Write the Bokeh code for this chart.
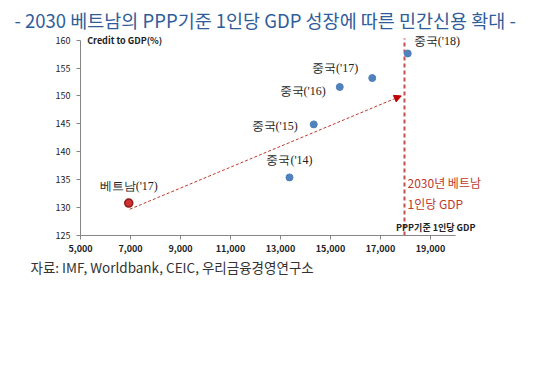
from bokeh.plotting import figure
from bokeh.models import (Range1d, ColumnDataSource, LabelSet, Label, Arrow, NormalHead,
                          FixedTicker, NumeralTickFormatter, Title)
from bokeh.embed import file_html
from bokeh.resources import INLINE

# ---- data ----
china_labels = ["중국('14)", "중국('15)", "중국('16)", "중국('17)", "중국('18)"]
china_gdp = [13360, 14330, 15370, 16670, 18090]
china_credit = [135.4, 144.9, 151.6, 153.2, 157.6]

vietnam_label = ["베트남('17)"]
vietnam_gdp = [6930]
vietnam_credit = [130.8]

target_gdp = 17960          # 2030 Vietnam per-capita GDP (PPP)
arrow_from = [6970, 129.7]
arrow_to = [17830, 150.0]

x_ticks = [5000, 7000, 9000, 11000, 13000, 15000, 17000, 19000]
y_ticks = [125, 130, 135, 140, 145, 150, 155, 160]

title_text = "- 2030 베트남의 PPP기준 1인당 GDP 성장에 따른 민간신용 확대 -"
source_text = "자료: IMF, Worldbank, CEIC, 우리금융경영연구소"
KR = "Noto Sans CJK KR"

p = figure(width=532, height=357, output_backend="svg", toolbar_location=None,
           x_range=Range1d(5000, 21400), y_range=Range1d(125, 161),
           min_border_left=80, min_border_right=42, min_border_top=34, min_border_bottom=122,
           title=None)
p.outline_line_color = None
p.grid.visible = False
p.background_fill_color = "white"

for ax in (p.xaxis[0], p.yaxis[0]):
    ax.axis_line_color = "#868686"
    ax.major_tick_line_color = "#868686"
    ax.major_tick_out = 4
    ax.major_tick_in = 0
    ax.minor_tick_line_color = None
    ax.major_label_text_font = KR
    ax.major_label_text_font_size = "9px"
    ax.major_label_text_color = "#222222"

p.xaxis.ticker = FixedTicker(ticks=x_ticks)
p.xaxis.formatter = NumeralTickFormatter(format="0,0")
p.xaxis.major_label_text_font_style = "bold"
p.xaxis.major_label_standoff = 5
p.xaxis.bounds = (5000, 20000)
p.yaxis.ticker = FixedTicker(ticks=y_ticks)
p.yaxis.major_label_standoff = 6
p.yaxis.bounds = (125, 160)

# target line
p.segment(x0=[target_gdp], y0=[125], x1=[target_gdp], y1=[160.3], line_color="#c0504d",
          line_width=2, line_dash="4 3")

# arrow
p.add_layout(Arrow(end=NormalHead(size=7, fill_color="#c00000", line_color="#c00000"),
                   x_start=arrow_from[0], y_start=arrow_from[1],
                   x_end=arrow_to[0], y_end=arrow_to[1],
                   line_color="#c0392b", line_width=1, line_dash="3 2"))

csrc = ColumnDataSource(dict(x=china_gdp, y=china_credit, t=china_labels,
                             xo=[0, -16, -14, -14, 6], yo=[17, -2, -4, 10, 12],
                             al=["center", "right", "right", "right", "left"]))
p.scatter("x", "y", source=csrc, size=7, fill_color="#4f81bd", line_color="#4f81bd")
vsrc = ColumnDataSource(dict(x=vietnam_gdp, y=vietnam_credit, t=vietnam_label))
p.scatter("x", "y", source=vsrc, size=8, fill_color="#d03030", line_color="#8b1a1a", line_width=1.5)

p.add_layout(LabelSet(x="x", y="y", text="t", source=csrc, x_offset="xo", y_offset="yo",
                      text_align="al", text_baseline="middle", text_font=KR,
                      text_font_size="12px", text_color="#222222"))
p.add_layout(LabelSet(x="x", y="y", text="t", source=vsrc, x_offset=0, y_offset=17,
                      text_align="center", text_baseline="middle", text_font=KR,
                      text_font_size="12px", text_color="#222222"))

# annotations
p.add_layout(Label(x=target_gdp, y=134.45, x_offset=3, text="2030년 베트남", text_font=KR,
                   text_font_size="12px", text_color="#c0392b", text_baseline="middle"))
p.add_layout(Label(x=target_gdp, y=130.7, x_offset=3, text="1인당 GDP", text_font=KR,
                   text_font_size="12px", text_color="#c0392b", text_baseline="middle"))
p.add_layout(Label(x=20800, y=126.5, text="PPP기준 1인당 GDP", text_font=KR,
                   text_font_size="9px", text_font_style="bold", text_color="#222222",
                   text_align="right", text_baseline="middle"))
p.add_layout(Label(x=5267, y=159.9, text="Credit to GDP(%)", text_font=KR,
                   text_font_size="9px", text_font_style="bold", text_color="#222222",
                   text_baseline="middle"))

p.add_layout(Title(text=title_text, text_font=KR, text_font_size="18.5px", text_font_style="normal",
                   text_color="#2f5d9a", align="left", offset=-66, standoff=4,
                   text_line_height=1.0), "above")
p.add_layout(Title(text=source_text, text_font=KR, text_font_size="13.5px", text_font_style="normal",
                   text_color="#333333", align="left", offset=-50, standoff=1), "below")

open("out.html", "w").write(file_html(p, INLINE))
